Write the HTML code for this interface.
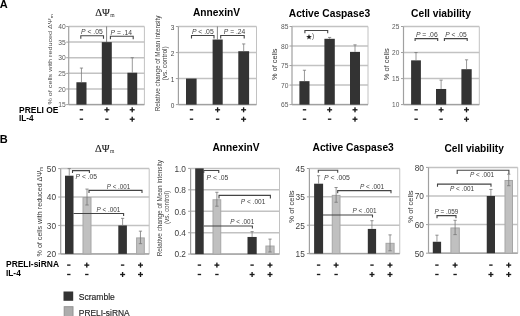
<!DOCTYPE html>
<html><head><meta charset="utf-8"><style>
html,body{margin:0;padding:0;background:#fff;width:520px;height:316px;overflow:hidden}
svg{display:block;will-change:transform}
</style></head><body>
<svg width="520" height="316" viewBox="0 0 520 316">
<rect x="0" y="0" width="520" height="316" fill="#fff"/>
<text x="-0.3" y="8.4" font-size="11" text-anchor="start" font-weight="bold" fill="#000" font-family="Liberation Sans">A</text>
<text x="-0.3" y="143.2" font-size="11" text-anchor="start" font-weight="bold" fill="#000" font-family="Liberation Sans">B</text>
<line x1="68.7" y1="104.6" x2="144.4" y2="104.6" stroke="#c2c2c2" stroke-width="1.5"/>
<line x1="68.7" y1="88.97999999999999" x2="144.4" y2="88.97999999999999" stroke="#c2c2c2" stroke-width="1.5"/>
<line x1="68.7" y1="73.36" x2="144.4" y2="73.36" stroke="#c2c2c2" stroke-width="1.5"/>
<line x1="68.7" y1="57.74" x2="144.4" y2="57.74" stroke="#c2c2c2" stroke-width="1.5"/>
<line x1="68.7" y1="42.120000000000005" x2="144.4" y2="42.120000000000005" stroke="#c2c2c2" stroke-width="1.5"/>
<line x1="68.7" y1="26.5" x2="144.4" y2="26.5" stroke="#c2c2c2" stroke-width="1.5"/>
<line x1="144.4" y1="26.5" x2="144.4" y2="104.6" stroke="#c2c2c2" stroke-width="1"/>
<line x1="68.7" y1="26.5" x2="68.7" y2="104.6" stroke="#a0a0a0" stroke-width="1.2"/>
<line x1="68.7" y1="104.6" x2="144.4" y2="104.6" stroke="#a0a0a0" stroke-width="1.2"/>
<line x1="66.2" y1="104.6" x2="68.7" y2="104.6" stroke="#a0a0a0" stroke-width="1"/>
<text x="65.7" y="107.28" font-size="6.7" text-anchor="end" font-weight="normal" fill="#5a5a5a" font-family="Liberation Sans">15</text>
<line x1="66.2" y1="88.97999999999999" x2="68.7" y2="88.97999999999999" stroke="#a0a0a0" stroke-width="1"/>
<text x="65.7" y="91.66" font-size="6.7" text-anchor="end" font-weight="normal" fill="#5a5a5a" font-family="Liberation Sans">20</text>
<line x1="66.2" y1="73.36" x2="68.7" y2="73.36" stroke="#a0a0a0" stroke-width="1"/>
<text x="65.7" y="76.04" font-size="6.7" text-anchor="end" font-weight="normal" fill="#5a5a5a" font-family="Liberation Sans">25</text>
<line x1="66.2" y1="57.74" x2="68.7" y2="57.74" stroke="#a0a0a0" stroke-width="1"/>
<text x="65.7" y="60.42" font-size="6.7" text-anchor="end" font-weight="normal" fill="#5a5a5a" font-family="Liberation Sans">30</text>
<line x1="66.2" y1="42.120000000000005" x2="68.7" y2="42.120000000000005" stroke="#a0a0a0" stroke-width="1"/>
<text x="65.7" y="44.800000000000004" font-size="6.7" text-anchor="end" font-weight="normal" fill="#5a5a5a" font-family="Liberation Sans">35</text>
<line x1="66.2" y1="26.5" x2="68.7" y2="26.5" stroke="#a0a0a0" stroke-width="1"/>
<text x="65.7" y="29.18" font-size="6.7" text-anchor="end" font-weight="normal" fill="#5a5a5a" font-family="Liberation Sans">40</text>
<rect x="76.4" y="82.2634" width="10.099999999999994" height="22.33659999999999" fill="#333333"/>
<line x1="81.45" y1="68.0492" x2="81.45" y2="82.2634" stroke="#777" stroke-width="0.75"/>
<line x1="79.85000000000001" y1="68.0492" x2="83.05" y2="68.0492" stroke="#777" stroke-width="0.8"/>
<rect x="101.8" y="42.120000000000005" width="10.0" height="62.47999999999999" fill="#333333"/>
<rect x="127.4" y="72.73519999999999" width="9.799999999999983" height="31.864800000000002" fill="#333333"/>
<line x1="132.3" y1="57.74" x2="132.3" y2="72.73519999999999" stroke="#777" stroke-width="0.75"/>
<line x1="130.70000000000002" y1="57.74" x2="133.9" y2="57.74" stroke="#777" stroke-width="0.8"/>
<line x1="106.6" y1="26.5" x2="106.6" y2="42" stroke="#666" stroke-width="0.8"/>
<path d="M80.8,38.8 L80.8,35.8 L103.5,35.8 L103.5,38.8" fill="none" stroke="#444" stroke-width="1.1"/>
<text x="81.00" y="34.4" font-size="6.8" fill="#3d3d3d" font-family="Liberation Sans" textLength="21.70" lengthAdjust="spacingAndGlyphs"><tspan font-style="italic">P</tspan> &lt; .05</text>
<path d="M110.4,39.2 L110.4,36.2 L133.2,36.2 L133.2,39.2" fill="none" stroke="#444" stroke-width="1.1"/>
<text x="110.50" y="35" font-size="6.8" fill="#3d3d3d" font-family="Liberation Sans" textLength="21.60" lengthAdjust="spacingAndGlyphs"><tspan font-style="italic">P</tspan> = .14</text>
<line x1="178.4" y1="104.6" x2="256.5" y2="104.6" stroke="#c2c2c2" stroke-width="1.5"/>
<line x1="178.4" y1="78.56666666666666" x2="256.5" y2="78.56666666666666" stroke="#c2c2c2" stroke-width="1.5"/>
<line x1="178.4" y1="52.53333333333333" x2="256.5" y2="52.53333333333333" stroke="#c2c2c2" stroke-width="1.5"/>
<line x1="178.4" y1="26.5" x2="256.5" y2="26.5" stroke="#c2c2c2" stroke-width="1.5"/>
<line x1="256.5" y1="26.5" x2="256.5" y2="104.6" stroke="#c2c2c2" stroke-width="1"/>
<line x1="178.4" y1="26.5" x2="178.4" y2="104.6" stroke="#a0a0a0" stroke-width="1.2"/>
<line x1="178.4" y1="104.6" x2="256.5" y2="104.6" stroke="#a0a0a0" stroke-width="1.2"/>
<line x1="175.9" y1="104.6" x2="178.4" y2="104.6" stroke="#a0a0a0" stroke-width="1"/>
<text x="174.3" y="107.97999999999999" font-size="6.5" text-anchor="end" font-weight="normal" fill="#444" font-family="Liberation Sans">0</text>
<line x1="175.9" y1="78.56666666666666" x2="178.4" y2="78.56666666666666" stroke="#a0a0a0" stroke-width="1"/>
<text x="174.3" y="81.94666666666666" font-size="6.5" text-anchor="end" font-weight="normal" fill="#444" font-family="Liberation Sans">1</text>
<line x1="175.9" y1="52.53333333333333" x2="178.4" y2="52.53333333333333" stroke="#a0a0a0" stroke-width="1"/>
<text x="174.3" y="55.913333333333334" font-size="6.5" text-anchor="end" font-weight="normal" fill="#444" font-family="Liberation Sans">2</text>
<line x1="175.9" y1="26.5" x2="178.4" y2="26.5" stroke="#a0a0a0" stroke-width="1"/>
<text x="174.3" y="29.88" font-size="6.5" text-anchor="end" font-weight="normal" fill="#444" font-family="Liberation Sans">3</text>
<rect x="186" y="78.56666666666666" width="10.599999999999994" height="26.03333333333333" fill="#333333"/>
<rect x="212.6" y="39.516666666666666" width="10.099999999999994" height="65.08333333333333" fill="#333333"/>
<rect x="238.3" y="51.23166666666667" width="10.799999999999983" height="53.368333333333325" fill="#333333"/>
<line x1="243.7" y1="43.94233333333333" x2="243.7" y2="51.23166666666667" stroke="#777" stroke-width="0.75"/>
<line x1="242.1" y1="43.94233333333333" x2="245.29999999999998" y2="43.94233333333333" stroke="#777" stroke-width="0.8"/>
<line x1="217.4" y1="26.5" x2="217.4" y2="39.5" stroke="#666" stroke-width="0.8"/>
<path d="M191.5,38.5 L191.5,35.5 L214,35.5 L214,38.5" fill="none" stroke="#444" stroke-width="1.1"/>
<text x="191.90" y="34.1" font-size="6.8" fill="#3d3d3d" font-family="Liberation Sans" textLength="21.80" lengthAdjust="spacingAndGlyphs"><tspan font-style="italic">P</tspan> &lt; .05</text>
<path d="M220.7,38.5 L220.7,35.5 L244.2,35.5 L244.2,38.5" fill="none" stroke="#444" stroke-width="1.1"/>
<text x="223.80" y="34.1" font-size="6.8" fill="#3d3d3d" font-family="Liberation Sans" textLength="21.50" lengthAdjust="spacingAndGlyphs"><tspan font-style="italic">P</tspan> = .24</text>
<line x1="292" y1="104.6" x2="368" y2="104.6" stroke="#c2c2c2" stroke-width="1.5"/>
<line x1="292" y1="85.07499999999999" x2="368" y2="85.07499999999999" stroke="#c2c2c2" stroke-width="1.5"/>
<line x1="292" y1="65.55" x2="368" y2="65.55" stroke="#c2c2c2" stroke-width="1.5"/>
<line x1="292" y1="46.025" x2="368" y2="46.025" stroke="#c2c2c2" stroke-width="1.5"/>
<line x1="292" y1="26.5" x2="368" y2="26.5" stroke="#c2c2c2" stroke-width="1.5"/>
<line x1="368" y1="26.5" x2="368" y2="104.6" stroke="#c2c2c2" stroke-width="1"/>
<line x1="292" y1="26.5" x2="292" y2="104.6" stroke="#a0a0a0" stroke-width="1.2"/>
<line x1="292" y1="104.6" x2="368" y2="104.6" stroke="#a0a0a0" stroke-width="1.2"/>
<line x1="289.5" y1="104.6" x2="292" y2="104.6" stroke="#a0a0a0" stroke-width="1"/>
<text x="288.4" y="107.28" font-size="6.7" text-anchor="end" font-weight="normal" fill="#5a5a5a" font-family="Liberation Sans">65</text>
<line x1="289.5" y1="85.07499999999999" x2="292" y2="85.07499999999999" stroke="#a0a0a0" stroke-width="1"/>
<text x="288.4" y="87.755" font-size="6.7" text-anchor="end" font-weight="normal" fill="#5a5a5a" font-family="Liberation Sans">70</text>
<line x1="289.5" y1="65.55" x2="292" y2="65.55" stroke="#a0a0a0" stroke-width="1"/>
<text x="288.4" y="68.23" font-size="6.7" text-anchor="end" font-weight="normal" fill="#5a5a5a" font-family="Liberation Sans">75</text>
<line x1="289.5" y1="46.025" x2="292" y2="46.025" stroke="#a0a0a0" stroke-width="1"/>
<text x="288.4" y="48.705" font-size="6.7" text-anchor="end" font-weight="normal" fill="#5a5a5a" font-family="Liberation Sans">80</text>
<line x1="289.5" y1="26.5" x2="292" y2="26.5" stroke="#a0a0a0" stroke-width="1"/>
<text x="288.4" y="29.18" font-size="6.7" text-anchor="end" font-weight="normal" fill="#5a5a5a" font-family="Liberation Sans">85</text>
<rect x="299.4" y="81.16999999999999" width="10.100000000000023" height="23.430000000000007" fill="#333333"/>
<line x1="304.45" y1="70.236" x2="304.45" y2="81.16999999999999" stroke="#777" stroke-width="0.75"/>
<line x1="302.84999999999997" y1="70.236" x2="306.05" y2="70.236" stroke="#777" stroke-width="0.8"/>
<rect x="324.4" y="38.80075000000002" width="10.400000000000034" height="65.79924999999997" fill="#333333"/>
<line x1="329.6" y1="37.43399999999998" x2="329.6" y2="38.80075000000002" stroke="#777" stroke-width="0.75"/>
<line x1="328.0" y1="37.43399999999998" x2="331.20000000000005" y2="37.43399999999998" stroke="#777" stroke-width="0.8"/>
<rect x="350" y="51.8825" width="10" height="52.717499999999994" fill="#333333"/>
<line x1="355.0" y1="44.85350000000001" x2="355.0" y2="51.8825" stroke="#777" stroke-width="0.75"/>
<line x1="353.4" y1="44.85350000000001" x2="356.6" y2="44.85350000000001" stroke="#777" stroke-width="0.8"/>
<path d="M304.9,33.3 L304.9,30.5 L327.7,30.5 L327.7,33.3" fill="none" stroke="#444" stroke-width="1.1"/>
<polygon points="309.00,34.10 309.73,36.09 311.85,36.17 310.19,37.49 310.76,39.53 309.00,38.35 307.24,39.53 307.81,37.49 306.15,36.17 308.27,36.09" fill="#222"/>
<text x="312.1" y="38.4" font-size="6.5" text-anchor="start" font-weight="normal" fill="#555" font-family="Liberation Sans">)</text>
<line x1="403.5" y1="104.6" x2="479.3" y2="104.6" stroke="#c2c2c2" stroke-width="1.5"/>
<line x1="403.5" y1="78.56666666666666" x2="479.3" y2="78.56666666666666" stroke="#c2c2c2" stroke-width="1.5"/>
<line x1="403.5" y1="52.53333333333333" x2="479.3" y2="52.53333333333333" stroke="#c2c2c2" stroke-width="1.5"/>
<line x1="403.5" y1="26.5" x2="479.3" y2="26.5" stroke="#c2c2c2" stroke-width="1.5"/>
<line x1="479.3" y1="26.5" x2="479.3" y2="104.6" stroke="#c2c2c2" stroke-width="1"/>
<line x1="403.5" y1="26.5" x2="403.5" y2="104.6" stroke="#a0a0a0" stroke-width="1.2"/>
<line x1="403.5" y1="104.6" x2="479.3" y2="104.6" stroke="#a0a0a0" stroke-width="1.2"/>
<line x1="401.0" y1="104.6" x2="403.5" y2="104.6" stroke="#a0a0a0" stroke-width="1"/>
<text x="399.3" y="107.19999999999999" font-size="6.5" text-anchor="end" font-weight="normal" fill="#5a5a5a" font-family="Liberation Sans">10</text>
<line x1="401.0" y1="78.56666666666666" x2="403.5" y2="78.56666666666666" stroke="#a0a0a0" stroke-width="1"/>
<text x="399.3" y="81.16666666666666" font-size="6.5" text-anchor="end" font-weight="normal" fill="#5a5a5a" font-family="Liberation Sans">15</text>
<line x1="401.0" y1="52.53333333333333" x2="403.5" y2="52.53333333333333" stroke="#a0a0a0" stroke-width="1"/>
<text x="399.3" y="55.13333333333333" font-size="6.5" text-anchor="end" font-weight="normal" fill="#5a5a5a" font-family="Liberation Sans">20</text>
<line x1="401.0" y1="26.5" x2="403.5" y2="26.5" stroke="#a0a0a0" stroke-width="1"/>
<text x="399.3" y="29.1" font-size="6.5" text-anchor="end" font-weight="normal" fill="#5a5a5a" font-family="Liberation Sans">25</text>
<rect x="411.1" y="60.343333333333334" width="9.799999999999955" height="44.25666666666666" fill="#333333"/>
<line x1="416.0" y1="52.53333333333333" x2="416.0" y2="60.343333333333334" stroke="#777" stroke-width="0.75"/>
<line x1="414.4" y1="52.53333333333333" x2="417.6" y2="52.53333333333333" stroke="#777" stroke-width="0.8"/>
<rect x="436" y="88.97999999999999" width="10.199999999999989" height="15.620000000000005" fill="#333333"/>
<line x1="441.1" y1="80.12866666666667" x2="441.1" y2="88.97999999999999" stroke="#777" stroke-width="0.75"/>
<line x1="439.5" y1="80.12866666666667" x2="442.70000000000005" y2="80.12866666666667" stroke="#777" stroke-width="0.8"/>
<rect x="461.4" y="69.19466666666666" width="10.300000000000011" height="35.40533333333333" fill="#333333"/>
<line x1="466.54999999999995" y1="59.822666666666656" x2="466.54999999999995" y2="69.19466666666666" stroke="#777" stroke-width="0.75"/>
<line x1="464.94999999999993" y1="59.822666666666656" x2="468.15" y2="59.822666666666656" stroke="#777" stroke-width="0.8"/>
<path d="M415.1,40.9 L415.1,38.6 L437.7,38.6 L437.7,40.9" fill="none" stroke="#444" stroke-width="1.1"/>
<text x="415.90" y="36.5" font-size="6.8" fill="#3d3d3d" font-family="Liberation Sans" textLength="21.80" lengthAdjust="spacingAndGlyphs"><tspan font-style="italic">P</tspan> = .06</text>
<path d="M444.4,40.9 L444.4,38.6 L467.2,38.6 L467.2,40.9" fill="none" stroke="#444" stroke-width="1.1"/>
<text x="445.30" y="36.5" font-size="6.8" fill="#3d3d3d" font-family="Liberation Sans" textLength="21.30" lengthAdjust="spacingAndGlyphs"><tspan font-style="italic">P</tspan> &lt; .05</text>
<text x="95.2" y="15.6" font-size="10" font-family="Liberation Serif" fill="#1a1a1a" stroke="#1a1a1a" stroke-width="0.12" textLength="14.6" lengthAdjust="spacingAndGlyphs">ΔΨ</text>
<text x="110.2" y="17.1" font-size="5.6" font-family="Liberation Serif" fill="#333">m</text>
<text x="193" y="16.3" font-size="10.4" text-anchor="start" font-weight="bold" fill="#000" font-family="Liberation Sans" textLength="47" lengthAdjust="spacingAndGlyphs">AnnexinV</text>
<text x="288.8" y="17" font-size="10.4" text-anchor="start" font-weight="bold" fill="#000" font-family="Liberation Sans" textLength="81.3" lengthAdjust="spacingAndGlyphs">Active Caspase3</text>
<text x="411" y="17" font-size="10.4" text-anchor="start" font-weight="bold" fill="#000" font-family="Liberation Sans" textLength="60" lengthAdjust="spacingAndGlyphs">Cell viability</text>
<text transform="translate(52,59.3) rotate(-90)" font-size="6.1" text-anchor="middle" fill="#4a4a4a" font-family="Liberation Sans" textLength="90.6" lengthAdjust="spacingAndGlyphs">% of cells with reduced ΔΨ<tspan font-size="4.2" dy="1">m</tspan></text>
<text transform="translate(160.2,63.4) rotate(-90)" x="0" y="0" font-size="6.5" text-anchor="middle" fill="#3d3d3d" font-family="Liberation Sans" textLength="95.8" lengthAdjust="spacingAndGlyphs">Relative change of Mean intensity</text>
<text transform="translate(167.4,63.4) rotate(-90)" x="0" y="0" font-size="6.5" text-anchor="middle" fill="#3d3d3d" font-family="Liberation Sans" textLength="34.3" lengthAdjust="spacingAndGlyphs">(vs. control)</text>
<text transform="translate(276.6,64.2) rotate(-90)" x="0" y="0" font-size="7.6" text-anchor="middle" fill="#333" font-family="Liberation Sans" textLength="31.5" lengthAdjust="spacingAndGlyphs">% of cells</text>
<text transform="translate(389,64.3) rotate(-90)" x="0" y="0" font-size="7.6" text-anchor="middle" fill="#333" font-family="Liberation Sans" textLength="32" lengthAdjust="spacingAndGlyphs">% of cells</text>
<rect x="79.7" y="109.12" width="3.4" height="1.35" fill="#1a1a1a"/>
<rect x="104.4" y="109.12" width="5.0" height="1.35" fill="#1a1a1a"/>
<rect x="106.23" y="107.3" width="1.35" height="5.0" fill="#1a1a1a"/>
<rect x="129.7" y="109.12" width="5.0" height="1.35" fill="#1a1a1a"/>
<rect x="131.52" y="107.3" width="1.35" height="5.0" fill="#1a1a1a"/>
<rect x="79.7" y="118.53" width="3.4" height="1.35" fill="#1a1a1a"/>
<rect x="105.2" y="118.53" width="3.4" height="1.35" fill="#1a1a1a"/>
<rect x="129.7" y="118.53" width="5.0" height="1.35" fill="#1a1a1a"/>
<rect x="131.52" y="116.7" width="1.35" height="5.0" fill="#1a1a1a"/>
<rect x="189.8" y="109.12" width="3.4" height="1.35" fill="#1a1a1a"/>
<rect x="215.1" y="109.12" width="5.0" height="1.35" fill="#1a1a1a"/>
<rect x="216.92" y="107.3" width="1.35" height="5.0" fill="#1a1a1a"/>
<rect x="241.1" y="109.12" width="5.0" height="1.35" fill="#1a1a1a"/>
<rect x="242.92" y="107.3" width="1.35" height="5.0" fill="#1a1a1a"/>
<rect x="189.8" y="118.53" width="3.4" height="1.35" fill="#1a1a1a"/>
<rect x="215.9" y="118.53" width="3.4" height="1.35" fill="#1a1a1a"/>
<rect x="241.1" y="118.53" width="5.0" height="1.35" fill="#1a1a1a"/>
<rect x="242.92" y="116.7" width="1.35" height="5.0" fill="#1a1a1a"/>
<rect x="302.8" y="109.12" width="3.4" height="1.35" fill="#1a1a1a"/>
<rect x="327.1" y="109.12" width="5.0" height="1.35" fill="#1a1a1a"/>
<rect x="328.93" y="107.3" width="1.35" height="5.0" fill="#1a1a1a"/>
<rect x="352.5" y="109.12" width="5.0" height="1.35" fill="#1a1a1a"/>
<rect x="354.32" y="107.3" width="1.35" height="5.0" fill="#1a1a1a"/>
<rect x="302.8" y="118.53" width="3.4" height="1.35" fill="#1a1a1a"/>
<rect x="327.9" y="118.53" width="3.4" height="1.35" fill="#1a1a1a"/>
<rect x="352.5" y="118.53" width="5.0" height="1.35" fill="#1a1a1a"/>
<rect x="354.32" y="116.7" width="1.35" height="5.0" fill="#1a1a1a"/>
<rect x="414.4" y="109.12" width="3.4" height="1.35" fill="#1a1a1a"/>
<rect x="438.6" y="109.12" width="5.0" height="1.35" fill="#1a1a1a"/>
<rect x="440.43" y="107.3" width="1.35" height="5.0" fill="#1a1a1a"/>
<rect x="464.0" y="109.12" width="5.0" height="1.35" fill="#1a1a1a"/>
<rect x="465.82" y="107.3" width="1.35" height="5.0" fill="#1a1a1a"/>
<rect x="414.4" y="118.53" width="3.4" height="1.35" fill="#1a1a1a"/>
<rect x="439.4" y="118.53" width="3.4" height="1.35" fill="#1a1a1a"/>
<rect x="464.0" y="118.53" width="5.0" height="1.35" fill="#1a1a1a"/>
<rect x="465.82" y="116.7" width="1.35" height="5.0" fill="#1a1a1a"/>
<text x="19" y="113.1" font-size="8.8" text-anchor="start" font-weight="bold" fill="#000" font-family="Liberation Sans" textLength="39.5" lengthAdjust="spacingAndGlyphs">PRELI OE</text>
<text x="19" y="121.2" font-size="8.8" text-anchor="start" font-weight="bold" fill="#000" font-family="Liberation Sans" textLength="14.6" lengthAdjust="spacingAndGlyphs">IL-4</text>
<line x1="60.7" y1="253.9" x2="149.2" y2="253.9" stroke="#c2c2c2" stroke-width="1.5"/>
<line x1="60.7" y1="225.46666666666667" x2="149.2" y2="225.46666666666667" stroke="#c2c2c2" stroke-width="1.5"/>
<line x1="60.7" y1="197.03333333333333" x2="149.2" y2="197.03333333333333" stroke="#c2c2c2" stroke-width="1.5"/>
<line x1="60.7" y1="168.6" x2="149.2" y2="168.6" stroke="#c2c2c2" stroke-width="1.5"/>
<line x1="149.2" y1="168.6" x2="149.2" y2="253.9" stroke="#c2c2c2" stroke-width="1"/>
<line x1="60.7" y1="168.6" x2="60.7" y2="253.9" stroke="#a0a0a0" stroke-width="1.2"/>
<line x1="60.7" y1="253.9" x2="149.2" y2="253.9" stroke="#a0a0a0" stroke-width="1.2"/>
<line x1="58.2" y1="253.9" x2="60.7" y2="253.9" stroke="#a0a0a0" stroke-width="1"/>
<text x="56.1" y="257.22" font-size="8.3" text-anchor="end" font-weight="normal" fill="#404040" font-family="Liberation Sans">20</text>
<line x1="58.2" y1="225.46666666666667" x2="60.7" y2="225.46666666666667" stroke="#a0a0a0" stroke-width="1"/>
<text x="56.1" y="228.78666666666666" font-size="8.3" text-anchor="end" font-weight="normal" fill="#404040" font-family="Liberation Sans">30</text>
<line x1="58.2" y1="197.03333333333333" x2="60.7" y2="197.03333333333333" stroke="#a0a0a0" stroke-width="1"/>
<text x="56.1" y="200.35333333333332" font-size="8.3" text-anchor="end" font-weight="normal" fill="#404040" font-family="Liberation Sans">40</text>
<line x1="58.2" y1="168.6" x2="60.7" y2="168.6" stroke="#a0a0a0" stroke-width="1"/>
<text x="56.1" y="171.92" font-size="8.3" text-anchor="end" font-weight="normal" fill="#404040" font-family="Liberation Sans">50</text>
<rect x="65" y="175.70833333333331" width="8.5" height="78.19166666666669" fill="#333333"/>
<line x1="69.25" y1="168.6" x2="69.25" y2="175.70833333333331" stroke="#777" stroke-width="0.75"/>
<line x1="67.65" y1="168.6" x2="70.85" y2="168.6" stroke="#777" stroke-width="0.8"/>
<rect x="83.0" y="197.53333333333333" width="8.0" height="56.366666666666674" fill="#c0c0c0" stroke="#a6a6a6" stroke-width="1"/>
<line x1="87.0" y1="189.072" x2="87.0" y2="204.99466666666666" stroke="#777" stroke-width="0.8"/>
<line x1="85.3" y1="204.99466666666666" x2="88.7" y2="204.99466666666666" stroke="#777" stroke-width="0.8"/>
<line x1="85.4" y1="189.072" x2="88.6" y2="189.072" stroke="#777" stroke-width="0.8"/>
<rect x="118.3" y="225.46666666666667" width="8.600000000000009" height="28.433333333333337" fill="#333333"/>
<line x1="122.6" y1="218.35833333333335" x2="122.6" y2="225.46666666666667" stroke="#777" stroke-width="0.75"/>
<line x1="121.0" y1="218.35833333333335" x2="124.19999999999999" y2="218.35833333333335" stroke="#777" stroke-width="0.8"/>
<rect x="136.6" y="237.90866666666668" width="7.700000000000017" height="15.99133333333333" fill="#c0c0c0" stroke="#a6a6a6" stroke-width="1"/>
<line x1="140.45" y1="231.15333333333334" x2="140.45" y2="243.66400000000002" stroke="#777" stroke-width="0.8"/>
<line x1="138.75" y1="243.66400000000002" x2="142.14999999999998" y2="243.66400000000002" stroke="#777" stroke-width="0.8"/>
<line x1="138.85" y1="231.15333333333334" x2="142.04999999999998" y2="231.15333333333334" stroke="#777" stroke-width="0.8"/>
<path d="M72.5,173.1 L72.5,170.6 L89.4,170.6 L89.4,173.1" fill="none" stroke="#444" stroke-width="1.1"/>
<text x="75.50" y="179.2" font-size="6.8" fill="#3d3d3d" font-family="Liberation Sans" textLength="21.60" lengthAdjust="spacingAndGlyphs"><tspan font-style="italic">P</tspan> &lt; .05</text>
<path d="M89,193.0 L89,190.4 L142,190.4 L142,193.0" fill="none" stroke="#444" stroke-width="1.1"/>
<text x="106.80" y="188.8" font-size="6.8" fill="#3d3d3d" font-family="Liberation Sans" textLength="23.40" lengthAdjust="spacingAndGlyphs"><tspan font-style="italic">P</tspan> &lt; .001</text>
<path d="M73.5,213.5 L73.5,213.5 L123.6,213.5 L123.6,216.1" fill="none" stroke="#444" stroke-width="1.1"/>
<text x="96.50" y="212.3" font-size="6.8" fill="#3d3d3d" font-family="Liberation Sans" textLength="23.90" lengthAdjust="spacingAndGlyphs"><tspan font-style="italic">P</tspan> &lt; .001</text>
<line x1="190.6" y1="254.1" x2="279.5" y2="254.1" stroke="#c2c2c2" stroke-width="1.5"/>
<line x1="190.6" y1="232.675" x2="279.5" y2="232.675" stroke="#c2c2c2" stroke-width="1.5"/>
<line x1="190.6" y1="211.25" x2="279.5" y2="211.25" stroke="#c2c2c2" stroke-width="1.5"/>
<line x1="190.6" y1="189.825" x2="279.5" y2="189.825" stroke="#c2c2c2" stroke-width="1.5"/>
<line x1="190.6" y1="168.4" x2="279.5" y2="168.4" stroke="#c2c2c2" stroke-width="1.5"/>
<line x1="279.5" y1="168.4" x2="279.5" y2="254.1" stroke="#c2c2c2" stroke-width="1"/>
<line x1="190.6" y1="168.4" x2="190.6" y2="254.1" stroke="#a0a0a0" stroke-width="1.2"/>
<line x1="190.6" y1="254.1" x2="279.5" y2="254.1" stroke="#a0a0a0" stroke-width="1.2"/>
<line x1="188.1" y1="254.1" x2="190.6" y2="254.1" stroke="#a0a0a0" stroke-width="1"/>
<text x="186.0" y="257.42" font-size="8.3" text-anchor="end" font-weight="normal" fill="#404040" font-family="Liberation Sans">0.2</text>
<line x1="188.1" y1="232.675" x2="190.6" y2="232.675" stroke="#a0a0a0" stroke-width="1"/>
<text x="186.0" y="235.995" font-size="8.3" text-anchor="end" font-weight="normal" fill="#404040" font-family="Liberation Sans">0.4</text>
<line x1="188.1" y1="211.25" x2="190.6" y2="211.25" stroke="#a0a0a0" stroke-width="1"/>
<text x="186.0" y="214.57" font-size="8.3" text-anchor="end" font-weight="normal" fill="#404040" font-family="Liberation Sans">0.6</text>
<line x1="188.1" y1="189.825" x2="190.6" y2="189.825" stroke="#a0a0a0" stroke-width="1"/>
<text x="186.0" y="193.14499999999998" font-size="8.3" text-anchor="end" font-weight="normal" fill="#404040" font-family="Liberation Sans">0.8</text>
<line x1="188.1" y1="168.4" x2="190.6" y2="168.4" stroke="#a0a0a0" stroke-width="1"/>
<text x="186.0" y="171.72" font-size="8.3" text-anchor="end" font-weight="normal" fill="#404040" font-family="Liberation Sans">1.0</text>
<rect x="195.2" y="168.4" width="8.5" height="85.69999999999999" fill="#333333"/>
<rect x="213.0" y="199.752" width="7.75" height="54.347999999999985" fill="#c0c0c0" stroke="#a6a6a6" stroke-width="1"/>
<line x1="216.875" y1="192.28887500000002" x2="216.875" y2="206.215125" stroke="#777" stroke-width="0.8"/>
<line x1="215.175" y1="206.215125" x2="218.575" y2="206.215125" stroke="#777" stroke-width="0.8"/>
<line x1="215.275" y1="192.28887500000002" x2="218.475" y2="192.28887500000002" stroke="#777" stroke-width="0.8"/>
<rect x="247.5" y="236.96" width="9.199999999999989" height="17.139999999999986" fill="#333333"/>
<line x1="252.1" y1="231.60375" x2="252.1" y2="236.96" stroke="#777" stroke-width="0.75"/>
<line x1="250.5" y1="231.60375" x2="253.7" y2="231.60375" stroke="#777" stroke-width="0.8"/>
<rect x="265.9" y="246.03" width="8.200000000000045" height="8.069999999999993" fill="#c0c0c0" stroke="#a6a6a6" stroke-width="1"/>
<line x1="270.0" y1="239.1025" x2="270.0" y2="251.9575" stroke="#777" stroke-width="0.8"/>
<line x1="268.3" y1="251.9575" x2="271.7" y2="251.9575" stroke="#777" stroke-width="0.8"/>
<line x1="268.4" y1="239.1025" x2="271.6" y2="239.1025" stroke="#777" stroke-width="0.8"/>
<path d="M203.75,173.0 L203.75,170.5 L218.75,170.5 L218.75,173.0" fill="none" stroke="#444" stroke-width="1.1"/>
<text x="206.50" y="180" font-size="6.8" fill="#3d3d3d" font-family="Liberation Sans" textLength="21.90" lengthAdjust="spacingAndGlyphs"><tspan font-style="italic">P</tspan> &lt; .05</text>
<path d="M219,198.4 L219,195.4 L270.4,195.4 L270.4,198.4" fill="none" stroke="#444" stroke-width="1.1"/>
<text x="240.75" y="203.5" font-size="6.8" fill="#3d3d3d" font-family="Liberation Sans" textLength="24.65" lengthAdjust="spacingAndGlyphs"><tspan font-style="italic">P</tspan> &lt; .001</text>
<path d="M203.75,226 L203.75,226 L252.4,226 L252.4,228.6" fill="none" stroke="#444" stroke-width="1.1"/>
<text x="230.30" y="224.3" font-size="6.8" fill="#3d3d3d" font-family="Liberation Sans" textLength="23.90" lengthAdjust="spacingAndGlyphs"><tspan font-style="italic">P</tspan> &lt; .001</text>
<line x1="309.4" y1="253.6" x2="399.75" y2="253.6" stroke="#c2c2c2" stroke-width="1.5"/>
<line x1="309.4" y1="225.23333333333332" x2="399.75" y2="225.23333333333332" stroke="#c2c2c2" stroke-width="1.5"/>
<line x1="309.4" y1="196.86666666666667" x2="399.75" y2="196.86666666666667" stroke="#c2c2c2" stroke-width="1.5"/>
<line x1="309.4" y1="168.5" x2="399.75" y2="168.5" stroke="#c2c2c2" stroke-width="1.5"/>
<line x1="399.75" y1="168.5" x2="399.75" y2="253.6" stroke="#c2c2c2" stroke-width="1"/>
<line x1="309.4" y1="168.5" x2="309.4" y2="253.6" stroke="#a0a0a0" stroke-width="1.2"/>
<line x1="309.4" y1="253.6" x2="399.75" y2="253.6" stroke="#a0a0a0" stroke-width="1.2"/>
<line x1="306.9" y1="253.6" x2="309.4" y2="253.6" stroke="#a0a0a0" stroke-width="1"/>
<text x="304.79999999999995" y="256.92" font-size="8.3" text-anchor="end" font-weight="normal" fill="#404040" font-family="Liberation Sans">15</text>
<line x1="306.9" y1="225.23333333333332" x2="309.4" y2="225.23333333333332" stroke="#a0a0a0" stroke-width="1"/>
<text x="304.79999999999995" y="228.5533333333333" font-size="8.3" text-anchor="end" font-weight="normal" fill="#404040" font-family="Liberation Sans">25</text>
<line x1="306.9" y1="196.86666666666667" x2="309.4" y2="196.86666666666667" stroke="#a0a0a0" stroke-width="1"/>
<text x="304.79999999999995" y="200.18666666666667" font-size="8.3" text-anchor="end" font-weight="normal" fill="#404040" font-family="Liberation Sans">35</text>
<line x1="306.9" y1="168.5" x2="309.4" y2="168.5" stroke="#a0a0a0" stroke-width="1"/>
<text x="304.79999999999995" y="171.82" font-size="8.3" text-anchor="end" font-weight="normal" fill="#404040" font-family="Liberation Sans">45</text>
<rect x="314.1" y="183.70453333333333" width="9.0" height="69.89546666666666" fill="#333333"/>
<line x1="318.6" y1="175.70513333333332" x2="318.6" y2="183.70453333333333" stroke="#777" stroke-width="0.75"/>
<line x1="317.0" y1="175.70513333333332" x2="320.20000000000005" y2="175.70513333333332" stroke="#777" stroke-width="0.8"/>
<rect x="332.25" y="195.381" width="7.75" height="58.218999999999994" fill="#c0c0c0" stroke="#a6a6a6" stroke-width="1"/>
<line x1="336.125" y1="187.50566666666668" x2="336.125" y2="202.25633333333332" stroke="#777" stroke-width="0.8"/>
<line x1="334.425" y1="202.25633333333332" x2="337.825" y2="202.25633333333332" stroke="#777" stroke-width="0.8"/>
<line x1="334.525" y1="187.50566666666668" x2="337.725" y2="187.50566666666668" stroke="#777" stroke-width="0.8"/>
<rect x="367.8" y="228.921" width="8.300000000000011" height="24.679000000000002" fill="#333333"/>
<line x1="371.95000000000005" y1="220.69466666666665" x2="371.95000000000005" y2="228.921" stroke="#777" stroke-width="0.75"/>
<line x1="370.35" y1="220.69466666666665" x2="373.55000000000007" y2="220.69466666666665" stroke="#777" stroke-width="0.8"/>
<rect x="386.0" y="243.32066666666665" width="8.100000000000023" height="10.27933333333334" fill="#c0c0c0" stroke="#a6a6a6" stroke-width="1"/>
<line x1="390.05" y1="234.878" x2="390.05" y2="250.76333333333332" stroke="#777" stroke-width="0.8"/>
<line x1="388.35" y1="250.76333333333332" x2="391.75" y2="250.76333333333332" stroke="#777" stroke-width="0.8"/>
<line x1="388.45" y1="234.878" x2="391.65000000000003" y2="234.878" stroke="#777" stroke-width="0.8"/>
<path d="M318.3,172.79999999999998 L318.3,170.2 L337.7,170.2 L337.7,172.79999999999998" fill="none" stroke="#444" stroke-width="1.1"/>
<text x="324.00" y="180" font-size="6.8" fill="#3d3d3d" font-family="Liberation Sans" textLength="25.90" lengthAdjust="spacingAndGlyphs"><tspan font-style="italic">P</tspan> &lt; .005</text>
<path d="M337.7,193.2 L337.7,190.6 L391,190.6 L391,193.2" fill="none" stroke="#444" stroke-width="1.1"/>
<text x="360.00" y="188.75" font-size="6.8" fill="#3d3d3d" font-family="Liberation Sans" textLength="24.15" lengthAdjust="spacingAndGlyphs"><tspan font-style="italic">P</tspan> &lt; .001</text>
<path d="M323,215 L323,215 L372.5,215 L372.5,217.6" fill="none" stroke="#444" stroke-width="1.1"/>
<text x="352.50" y="212.5" font-size="6.8" fill="#3d3d3d" font-family="Liberation Sans" textLength="24.15" lengthAdjust="spacingAndGlyphs"><tspan font-style="italic">P</tspan> &lt; .001</text>
<line x1="428.5" y1="253.2" x2="517.7" y2="253.2" stroke="#c2c2c2" stroke-width="1.5"/>
<line x1="428.5" y1="224.6" x2="517.7" y2="224.6" stroke="#c2c2c2" stroke-width="1.5"/>
<line x1="428.5" y1="196.0" x2="517.7" y2="196.0" stroke="#c2c2c2" stroke-width="1.5"/>
<line x1="428.5" y1="167.4" x2="517.7" y2="167.4" stroke="#c2c2c2" stroke-width="1.5"/>
<line x1="517.7" y1="167.4" x2="517.7" y2="253.2" stroke="#c2c2c2" stroke-width="1"/>
<line x1="428.5" y1="167.4" x2="428.5" y2="253.2" stroke="#a0a0a0" stroke-width="1.2"/>
<line x1="428.5" y1="253.2" x2="517.7" y2="253.2" stroke="#a0a0a0" stroke-width="1.2"/>
<line x1="426.0" y1="253.2" x2="428.5" y2="253.2" stroke="#a0a0a0" stroke-width="1"/>
<text x="423.9" y="256.52" font-size="8.3" text-anchor="end" font-weight="normal" fill="#404040" font-family="Liberation Sans">50</text>
<line x1="426.0" y1="224.6" x2="428.5" y2="224.6" stroke="#a0a0a0" stroke-width="1"/>
<text x="423.9" y="227.92" font-size="8.3" text-anchor="end" font-weight="normal" fill="#404040" font-family="Liberation Sans">60</text>
<line x1="426.0" y1="196.0" x2="428.5" y2="196.0" stroke="#a0a0a0" stroke-width="1"/>
<text x="423.9" y="199.32" font-size="8.3" text-anchor="end" font-weight="normal" fill="#404040" font-family="Liberation Sans">70</text>
<line x1="426.0" y1="167.4" x2="428.5" y2="167.4" stroke="#a0a0a0" stroke-width="1"/>
<text x="423.9" y="170.72" font-size="8.3" text-anchor="end" font-weight="normal" fill="#404040" font-family="Liberation Sans">80</text>
<rect x="432.8" y="241.76" width="8.300000000000011" height="11.439999999999998" fill="#333333"/>
<line x1="436.95000000000005" y1="235.182" x2="436.95000000000005" y2="241.76" stroke="#777" stroke-width="0.75"/>
<line x1="435.35" y1="235.182" x2="438.55000000000007" y2="235.182" stroke="#777" stroke-width="0.8"/>
<rect x="450.9" y="227.95999999999998" width="8.400000000000034" height="25.24000000000001" fill="#c0c0c0" stroke="#a6a6a6" stroke-width="1"/>
<line x1="455.1" y1="220.31" x2="455.1" y2="234.60999999999996" stroke="#777" stroke-width="0.8"/>
<line x1="453.40000000000003" y1="234.60999999999996" x2="456.8" y2="234.60999999999996" stroke="#777" stroke-width="0.8"/>
<line x1="453.5" y1="220.31" x2="456.70000000000005" y2="220.31" stroke="#777" stroke-width="0.8"/>
<rect x="486.75" y="196.0" width="8.25" height="57.19999999999999" fill="#333333"/>
<line x1="490.875" y1="189.42200000000003" x2="490.875" y2="196.0" stroke="#777" stroke-width="0.75"/>
<line x1="489.275" y1="189.42200000000003" x2="492.475" y2="189.42200000000003" stroke="#777" stroke-width="0.8"/>
<rect x="505.0" y="180.48400000000004" width="7.5" height="72.71599999999995" fill="#c0c0c0" stroke="#a6a6a6" stroke-width="1"/>
<line x1="508.75" y1="174.264" x2="508.75" y2="185.70400000000006" stroke="#777" stroke-width="0.8"/>
<line x1="507.05" y1="185.70400000000006" x2="510.45" y2="185.70400000000006" stroke="#777" stroke-width="0.8"/>
<line x1="507.15" y1="174.264" x2="510.35" y2="174.264" stroke="#777" stroke-width="0.8"/>
<path d="M457.2,174.0 L457.2,170.2 L508.9,170.2 L508.9,174.0" fill="none" stroke="#444" stroke-width="1.1"/>
<text x="470.00" y="177" font-size="6.8" fill="#3d3d3d" font-family="Liberation Sans" textLength="24.15" lengthAdjust="spacingAndGlyphs"><tspan font-style="italic">P</tspan> &lt; .001</text>
<path d="M437.5,186.7 L437.5,184.1 L491,184.1 L491,186.7" fill="none" stroke="#444" stroke-width="1.1"/>
<text x="450.00" y="190.75" font-size="6.8" fill="#3d3d3d" font-family="Liberation Sans" textLength="24.15" lengthAdjust="spacingAndGlyphs"><tspan font-style="italic">P</tspan> &lt; .001</text>
<path d="M437,218.2 L437,215.6 L456,215.6 L456,218.2" fill="none" stroke="#444" stroke-width="1.1"/>
<text x="434.50" y="213.75" font-size="6.8" fill="#3d3d3d" font-family="Liberation Sans" textLength="23.90" lengthAdjust="spacingAndGlyphs"><tspan font-style="italic">P</tspan> = .059</text>
<text x="95" y="151.6" font-size="10.8" font-family="Liberation Serif" fill="#1a1a1a" stroke="#1a1a1a" stroke-width="0.12" textLength="14.6" lengthAdjust="spacingAndGlyphs">ΔΨ</text>
<text x="110" y="153.1" font-size="5.6" font-family="Liberation Serif" fill="#333">m</text>
<text x="212.5" y="151.3" font-size="10.4" text-anchor="start" font-weight="bold" fill="#000" font-family="Liberation Sans" textLength="47" lengthAdjust="spacingAndGlyphs">AnnexinV</text>
<text x="312.5" y="151.3" font-size="10.4" text-anchor="start" font-weight="bold" fill="#000" font-family="Liberation Sans" textLength="81.3" lengthAdjust="spacingAndGlyphs">Active Caspase3</text>
<text x="444.5" y="151.6" font-size="10.4" text-anchor="start" font-weight="bold" fill="#000" font-family="Liberation Sans" textLength="59.3" lengthAdjust="spacingAndGlyphs">Cell viability</text>
<text transform="translate(42,211.7) rotate(-90)" font-size="7.2" text-anchor="middle" fill="#3a3a3a" font-family="Liberation Sans" textLength="89.5" lengthAdjust="spacingAndGlyphs">% of cells with reduced ΔΨ<tspan font-size="4.5" dy="1">m</tspan></text>
<text transform="translate(161.8,208.2) rotate(-90)" x="0" y="0" font-size="6.4" text-anchor="middle" fill="#444" font-family="Liberation Sans" textLength="96.2" lengthAdjust="spacingAndGlyphs">Relative change of Mean intensity</text>
<text transform="translate(169.3,207.5) rotate(-90)" x="0" y="0" font-size="6.4" text-anchor="middle" fill="#444" font-family="Liberation Sans" textLength="33.2" lengthAdjust="spacingAndGlyphs">(vs. control)</text>
<text transform="translate(293.5,206.5) rotate(-90)" x="0" y="0" font-size="7.5" text-anchor="middle" fill="#333" font-family="Liberation Sans" textLength="32.3" lengthAdjust="spacingAndGlyphs">% of cells</text>
<text transform="translate(413,206.5) rotate(-90)" x="0" y="0" font-size="7.5" text-anchor="middle" fill="#333" font-family="Liberation Sans" textLength="32.3" lengthAdjust="spacingAndGlyphs">% of cells</text>
<rect x="67.1" y="264.43" width="3.4" height="1.35" fill="#1a1a1a"/>
<rect x="84.3" y="264.43" width="5.0" height="1.35" fill="#1a1a1a"/>
<rect x="86.12" y="262.6" width="1.35" height="5.0" fill="#1a1a1a"/>
<rect x="120.9" y="264.43" width="3.4" height="1.35" fill="#1a1a1a"/>
<rect x="138.0" y="264.43" width="5.0" height="1.35" fill="#1a1a1a"/>
<rect x="139.82" y="262.6" width="1.35" height="5.0" fill="#1a1a1a"/>
<rect x="67.1" y="273.82" width="3.4" height="1.35" fill="#1a1a1a"/>
<rect x="85.1" y="273.82" width="3.4" height="1.35" fill="#1a1a1a"/>
<rect x="120.1" y="273.82" width="5.0" height="1.35" fill="#1a1a1a"/>
<rect x="121.92" y="272.0" width="1.35" height="5.0" fill="#1a1a1a"/>
<rect x="138.0" y="273.82" width="5.0" height="1.35" fill="#1a1a1a"/>
<rect x="139.82" y="272.0" width="1.35" height="5.0" fill="#1a1a1a"/>
<rect x="197.7" y="264.43" width="3.4" height="1.35" fill="#1a1a1a"/>
<rect x="214.4" y="264.43" width="5.0" height="1.35" fill="#1a1a1a"/>
<rect x="216.22" y="262.6" width="1.35" height="5.0" fill="#1a1a1a"/>
<rect x="250.4" y="264.43" width="3.4" height="1.35" fill="#1a1a1a"/>
<rect x="267.5" y="264.43" width="5.0" height="1.35" fill="#1a1a1a"/>
<rect x="269.32" y="262.6" width="1.35" height="5.0" fill="#1a1a1a"/>
<rect x="197.7" y="273.82" width="3.4" height="1.35" fill="#1a1a1a"/>
<rect x="215.2" y="273.82" width="3.4" height="1.35" fill="#1a1a1a"/>
<rect x="249.6" y="273.82" width="5.0" height="1.35" fill="#1a1a1a"/>
<rect x="251.42" y="272.0" width="1.35" height="5.0" fill="#1a1a1a"/>
<rect x="267.5" y="273.82" width="5.0" height="1.35" fill="#1a1a1a"/>
<rect x="269.32" y="272.0" width="1.35" height="5.0" fill="#1a1a1a"/>
<rect x="316.9" y="264.43" width="3.4" height="1.35" fill="#1a1a1a"/>
<rect x="333.6" y="264.43" width="5.0" height="1.35" fill="#1a1a1a"/>
<rect x="335.43" y="262.6" width="1.35" height="5.0" fill="#1a1a1a"/>
<rect x="370.3" y="264.43" width="3.4" height="1.35" fill="#1a1a1a"/>
<rect x="387.5" y="264.43" width="5.0" height="1.35" fill="#1a1a1a"/>
<rect x="389.32" y="262.6" width="1.35" height="5.0" fill="#1a1a1a"/>
<rect x="316.9" y="273.82" width="3.4" height="1.35" fill="#1a1a1a"/>
<rect x="334.4" y="273.82" width="3.4" height="1.35" fill="#1a1a1a"/>
<rect x="369.5" y="273.82" width="5.0" height="1.35" fill="#1a1a1a"/>
<rect x="371.32" y="272.0" width="1.35" height="5.0" fill="#1a1a1a"/>
<rect x="387.5" y="273.82" width="5.0" height="1.35" fill="#1a1a1a"/>
<rect x="389.32" y="272.0" width="1.35" height="5.0" fill="#1a1a1a"/>
<rect x="435.2" y="264.43" width="3.4" height="1.35" fill="#1a1a1a"/>
<rect x="452.6" y="264.43" width="5.0" height="1.35" fill="#1a1a1a"/>
<rect x="454.43" y="262.6" width="1.35" height="5.0" fill="#1a1a1a"/>
<rect x="489.2" y="264.43" width="3.4" height="1.35" fill="#1a1a1a"/>
<rect x="506.2" y="264.43" width="5.0" height="1.35" fill="#1a1a1a"/>
<rect x="508.02" y="262.6" width="1.35" height="5.0" fill="#1a1a1a"/>
<rect x="435.2" y="273.82" width="3.4" height="1.35" fill="#1a1a1a"/>
<rect x="453.4" y="273.82" width="3.4" height="1.35" fill="#1a1a1a"/>
<rect x="488.4" y="273.82" width="5.0" height="1.35" fill="#1a1a1a"/>
<rect x="490.22" y="272.0" width="1.35" height="5.0" fill="#1a1a1a"/>
<rect x="506.2" y="273.82" width="5.0" height="1.35" fill="#1a1a1a"/>
<rect x="508.02" y="272.0" width="1.35" height="5.0" fill="#1a1a1a"/>
<text x="6" y="267.3" font-size="8.3" text-anchor="start" font-weight="bold" fill="#000" font-family="Liberation Sans" textLength="53" lengthAdjust="spacingAndGlyphs">PRELI-siRNA</text>
<text x="6" y="275.9" font-size="8.3" text-anchor="start" font-weight="bold" fill="#000" font-family="Liberation Sans">IL-4</text>
<rect x="63.5" y="291.5" width="9.7" height="9.3" fill="#333333"/>
<text x="78.8" y="300.4" font-size="9.2" text-anchor="start" font-weight="normal" fill="#222" font-family="Liberation Sans" textLength="36" lengthAdjust="spacingAndGlyphs" stroke="#222" stroke-width="0.15">Scramble</text>
<rect x="64.2" y="306.7" width="8.8" height="10" fill="#adadad" stroke="#939393" stroke-width="1"/>
<text x="78.8" y="315.6" font-size="9.2" text-anchor="start" font-weight="normal" fill="#222" font-family="Liberation Sans" textLength="50.8" lengthAdjust="spacingAndGlyphs" stroke="#222" stroke-width="0.15">PRELI-siRNA</text>
</svg>
</body></html>
